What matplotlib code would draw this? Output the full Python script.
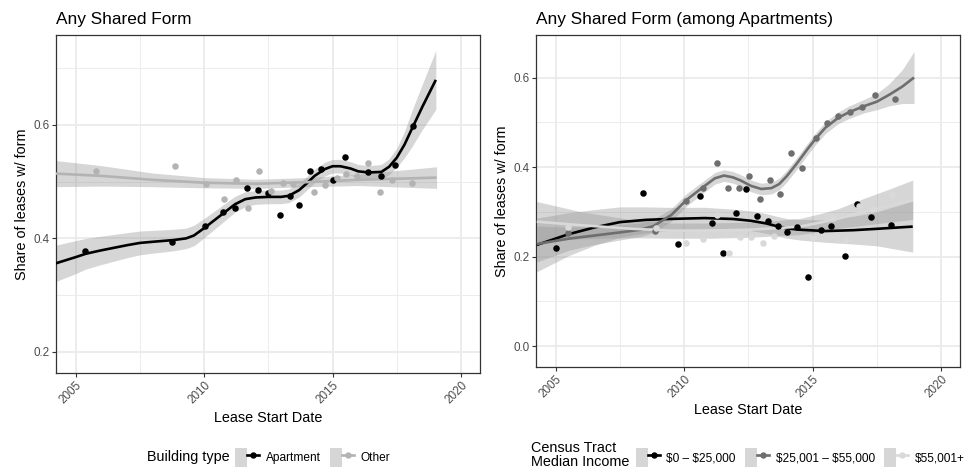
import matplotlib
matplotlib.use("Agg")
import matplotlib.pyplot as plt
import numpy as np
from matplotlib.lines import Line2D
from matplotlib.patches import Patch
from matplotlib.legend_handler import HandlerTuple

plt.rcParams['font.family'] = ['Liberation Sans', 'DejaVu Sans']

# ---- left panel: share of leases with any shared form, by building type
apt_year = [2005.36, 2008.76, 2010.02, 2010.72, 2011.20, 2011.67, 2012.11, 2012.49,
            2012.95, 2013.34, 2013.70, 2014.12, 2014.56, 2015.02, 2015.47, 2016.39,
            2016.88, 2017.42, 2018.14]
apt_share = [0.377, 0.394, 0.421, 0.446, 0.454, 0.488, 0.485, 0.480,
             0.441, 0.474, 0.458, 0.519, 0.522, 0.503, 0.544, 0.517,
             0.509, 0.530, 0.597]
other_year = [2005.79, 2008.86, 2010.08, 2010.77, 2011.23, 2011.69, 2012.13, 2012.60,
              2013.07, 2013.47, 2014.27, 2014.70, 2015.16, 2015.54, 2015.96, 2016.37,
              2016.84, 2017.33, 2018.10]
other_share = [0.519, 0.527, 0.495, 0.470, 0.503, 0.454, 0.519, 0.483,
               0.498, 0.495, 0.481, 0.494, 0.506, 0.514, 0.510, 0.532,
               0.481, 0.502, 0.498]

# smoother fit and half-width of its confidence band
apt_fit_year = [2004.22, 2005.0, 2005.4, 2006.0, 2007.0, 2007.5, 2008.0, 2008.8, 2009.3,
                2009.6, 2010.0, 2010.4, 2010.8, 2011.2, 2011.6, 2012.0, 2012.5, 2013.0,
                2013.3, 2013.7, 2014.0, 2014.3, 2014.7, 2015.0, 2015.3, 2015.7, 2016.0,
                2016.4, 2016.9, 2017.2, 2017.5, 2017.8, 2018.1, 2018.5, 2019.02]
apt_fit = [0.356, 0.367, 0.373, 0.379, 0.388, 0.392, 0.394, 0.397, 0.400,
           0.405, 0.418, 0.432, 0.446, 0.460, 0.469, 0.472, 0.473, 0.473,
           0.475, 0.485, 0.497, 0.510, 0.522, 0.527, 0.527, 0.523, 0.518,
           0.516, 0.517, 0.526, 0.542, 0.565, 0.594, 0.632, 0.679]
apt_se = [0.032, 0.029, 0.027, 0.025, 0.022, 0.021, 0.020, 0.019, 0.018,
          0.018, 0.017, 0.016, 0.015, 0.014, 0.013, 0.012, 0.012, 0.012,
          0.012, 0.012, 0.012, 0.012, 0.012, 0.012, 0.012, 0.012, 0.012,
          0.012, 0.013, 0.014, 0.017, 0.023, 0.032, 0.040, 0.052]
other_fit_year = [2004.22, 2006.0, 2008.0, 2010.0, 2012.0, 2014.0, 2016.0, 2019.05]
other_fit = [0.514, 0.510, 0.503, 0.498, 0.496, 0.499, 0.503, 0.507]
other_se = [0.023, 0.018, 0.012, 0.009, 0.008, 0.008, 0.010, 0.019]

# ---- right panel: apartments only, by census tract median income
low_year = [2005.00, 2008.39, 2009.76, 2010.62, 2011.07, 2011.53, 2012.00, 2012.39,
            2012.82, 2013.27, 2013.66, 2014.01, 2014.39, 2014.83, 2015.33, 2015.72,
            2016.25, 2016.73, 2017.28, 2018.06]
low_share = [0.219, 0.342, 0.228, 0.336, 0.276, 0.208, 0.298, 0.351,
             0.291, 0.280, 0.269, 0.254, 0.266, 0.155, 0.260, 0.269,
             0.202, 0.318, 0.289, 0.271]
mid_year = [2005.47, 2008.85, 2010.08, 2010.75, 2011.27, 2011.72, 2012.14, 2012.52,
            2012.95, 2013.34, 2013.73, 2014.17, 2014.60, 2015.12, 2015.56, 2016.00,
            2016.44, 2016.93, 2017.45, 2018.19]
mid_share = [0.252, 0.257, 0.325, 0.353, 0.409, 0.353, 0.354, 0.380,
             0.329, 0.370, 0.340, 0.431, 0.398, 0.465, 0.499, 0.513,
             0.523, 0.534, 0.560, 0.552]
high_year = [2005.47, 2008.89, 2010.08, 2010.72, 2011.27, 2011.73, 2012.19, 2012.62,
             2013.07, 2013.50, 2015.00, 2015.81, 2016.30, 2016.80, 2017.33, 2018.11]
high_share = [0.267, 0.263, 0.230, 0.240, 0.293, 0.209, 0.244, 0.244,
              0.230, 0.247, 0.242, 0.286, 0.236, 0.314, 0.306, 0.337]

low_fit_year = [2004.26, 2005.5, 2006.5, 2007.5, 2008.5, 2009.4, 2010.8, 2011.9, 2012.6,
                2013.2, 2013.6, 2014.0, 2014.5, 2015.5, 2016.6, 2017.5, 2018.9]
low_fit = [0.226, 0.250, 0.265, 0.277, 0.282, 0.284, 0.286, 0.284, 0.280,
           0.274, 0.268, 0.263, 0.260, 0.257, 0.259, 0.262, 0.267]
low_se = [0.060, 0.048, 0.040, 0.034, 0.029, 0.026, 0.024, 0.022, 0.022,
          0.022, 0.022, 0.022, 0.023, 0.025, 0.031, 0.038, 0.057]
mid_fit_year = [2004.26, 2005.5, 2006.5, 2007.5, 2008.3, 2008.8, 2009.5, 2010.1, 2010.8,
                2011.2, 2011.55, 2011.9, 2012.2, 2012.6, 2013.0, 2013.4, 2013.7, 2014.0,
                2014.4, 2014.8, 2015.1, 2015.5, 2016.0, 2016.4, 2017.0, 2017.5, 2018.0,
                2018.5, 2018.95]
mid_fit = [0.228, 0.240, 0.247, 0.254, 0.260, 0.268, 0.293, 0.327, 0.358,
           0.375, 0.381, 0.377, 0.370, 0.358, 0.351, 0.353, 0.362, 0.380,
           0.409, 0.440, 0.462, 0.488, 0.510, 0.522, 0.536, 0.546, 0.562,
           0.580, 0.600]
mid_se = [0.040, 0.026, 0.020, 0.017, 0.015, 0.015, 0.014, 0.014, 0.013,
          0.013, 0.013, 0.013, 0.013, 0.013, 0.013, 0.013, 0.013, 0.013,
          0.013, 0.013, 0.013, 0.013, 0.013, 0.014, 0.015, 0.018, 0.025,
          0.038, 0.058]
high_fit_year = [2004.26, 2006.0, 2008.0, 2009.5, 2011.0, 2012.5, 2013.5, 2014.5, 2015.3,
                 2016.0, 2017.0, 2018.0, 2018.9]
high_fit = [0.278, 0.270, 0.262, 0.258, 0.258, 0.260, 0.263, 0.267, 0.276,
            0.285, 0.300, 0.314, 0.327]
high_se = [0.045, 0.030, 0.020, 0.017, 0.017, 0.017, 0.017, 0.018, 0.020,
           0.022, 0.030, 0.037, 0.044]

income_labels = ['\\$0 \u2013 \\$25,000', '\\$25,001 \u2013 \\$55,000', '\\$55,001+']

BAND = '#999999'
LIGHT = '#d9d9d9'
MID = '#6e6e6e'


def draw_smooth(ax, x, fit, se, color):
    fit = np.asarray(fit)
    se = np.asarray(se)
    ax.fill_between(x, fit - se, fit + se, color=BAND, alpha=0.4, lw=0, zorder=2)
    ax.plot(x, fit, color=color, lw=1.9, zorder=3, solid_capstyle='butt')


def style_axes(ax, ylim, yticks, yminor):
    ax.set_xlim(2004.22, 2020.74)
    ax.set_ylim(*ylim)
    ax.set_xticks([2005, 2010, 2015, 2020])
    ax.set_xticks([2007.5, 2012.5, 2017.5], minor=True)
    ax.set_yticks(yticks)
    ax.set_yticklabels(['%.1f' % t for t in yticks])
    ax.set_yticks(yminor, minor=True)
    ax.grid(which='major', color='#ebebeb', lw=1.3)
    ax.grid(which='minor', color='#ebebeb', lw=0.65)
    ax.set_axisbelow(True)
    ax.tick_params(which='minor', length=0)
    ax.tick_params(which='major', length=2.6, width=0.8, color='#333333',
                   labelcolor='#4d4d4d', labelsize=8.4, pad=2)
    for s in ax.spines.values():
        s.set_color('#333333')
        s.set_linewidth(0.9)
    for lab in ax.get_xticklabels():
        lab.set_rotation(45)
        lab.set_ha('right')
        lab.set_va('top')
        lab.set_rotation_mode('anchor')
    ax.set_xlabel('Lease Start Date', fontsize=10.4)
    ax.xaxis.set_label_coords(0.5, -0.132)
    ax.xaxis.label.set_va('center')
    ax.set_ylabel('Share of leases w/ form', fontsize=10.4)
    ax.yaxis.set_label_coords(-0.08, 0.5)
    ax.yaxis.label.set_va('center')


def key(color):
    return (Patch(facecolor=BAND, alpha=0.4, edgecolor='none'),
            Line2D([], [], color=color, lw=1.9, marker='o', ms=4.6, mew=0))


fig = plt.figure(figsize=(9.66, 4.72), dpi=100)
W, H = 966.0, 472.0

# left panel
ax1 = fig.add_axes([55.7 / W, 1 - 373 / H, (480 - 55.7) / W, (373 - 35) / H])
draw_smooth(ax1, apt_fit_year, apt_fit, apt_se, 'black')
draw_smooth(ax1, other_fit_year, other_fit, other_se, '#b3b3b3')
ax1.scatter(apt_year, apt_share, s=22, color='black', lw=0, zorder=4)
ax1.scatter(other_year, other_share, s=22, color='#b3b3b3', lw=0, zorder=4)
style_axes(ax1, (0.163, 0.758), [0.2, 0.4, 0.6], [0.3, 0.5, 0.7])
ax1.set_title('Any Shared Form', loc='left', fontsize=12.4, pad=8)

# right panel
ax2 = fig.add_axes([535.7 / W, 1 - 366.7 / H, (960 - 535.7) / W, (366.7 - 35) / H])
draw_smooth(ax2, low_fit_year, low_fit, low_se, 'black')
draw_smooth(ax2, mid_fit_year, mid_fit, mid_se, MID)
draw_smooth(ax2, high_fit_year, high_fit, high_se, LIGHT)
ax2.scatter(low_year, low_share, s=22, color='black', lw=0, zorder=4)
ax2.scatter(mid_year, mid_share, s=22, color=MID, lw=0, zorder=4)
ax2.scatter(high_year, high_share, s=22, color=LIGHT, lw=0, zorder=4)
style_axes(ax2, (-0.046, 0.695), [0.0, 0.2, 0.4, 0.6], [0.1, 0.3, 0.5])
ax2.set_title('Any Shared Form (among Apartments)', loc='left', fontsize=12.4, pad=8)

# legends, with the title drawn beside the keys
leg_kw = dict(loc='center', frameon=False, handlelength=2.0, handleheight=2.0,
              handletextpad=0.55, columnspacing=0.8, fontsize=8.6, borderpad=0,
              handler_map={tuple: HandlerTuple(ndivide=None)})
fig.legend([key('black'), key('#b3b3b3')], ['Apartment', 'Other'], ncol=2,
           bbox_to_anchor=(312.8 / W, 1 - 457.5 / H), **leg_kw)
fig.text(230 / W, 1 - 457.5 / H, 'Building type', ha='right', va='center', fontsize=10.4)

fig.legend([key('black'), key(MID), key(LIGHT)], income_labels, ncol=3,
           bbox_to_anchor=(800.3 / W, 1 - 457.5 / H), **leg_kw)
fig.text(531.3 / W, 1 - 455 / H, 'Census Tract\nMedian Income', ha='left', va='center',
         fontsize=10.4, linespacing=1.05)

fig.savefig('out.png', dpi=100)
